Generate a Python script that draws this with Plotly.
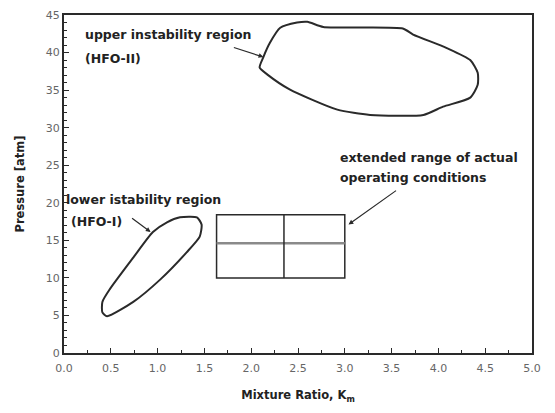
import plotly.graph_objects as go

# Upper instability region (HFO-II) boundary
upper_x = [2.60, 2.77, 3.62, 3.73, 4.09, 4.34, 4.42, 4.42, 4.34, 4.05, 3.84, 3.27, 2.92, 2.41, 2.17, 2.09, 2.13, 2.20, 2.31, 2.49, 2.60]
upper_y = [44.1, 43.4, 43.2, 42.4, 40.6, 39.0, 37.3, 35.7, 34.0, 32.8, 31.7, 31.7, 32.4, 35.1, 37.1, 38.0, 39.4, 41.3, 43.3, 44.0, 44.1]

# Lower instability region (HFO-I) boundary
lower_x = [1.24, 1.42, 1.47, 1.45, 1.31, 1.03, 0.74, 0.46, 0.41, 0.41, 0.49, 0.74, 0.95, 1.10, 1.24]
lower_y = [18.06, 18.06, 17.1, 15.5, 13.4, 9.8, 6.8, 4.9, 5.4, 6.8, 8.5, 12.7, 16.1, 17.4, 18.06]

# Operating range box
box_x = [1.63, 3.0]
box_y = [10.0, 18.4]
box_mid_x = 2.35
box_mid_y = 14.6

x_ticks = [0.0, 0.5, 1.0, 1.5, 2.0, 2.5, 3.0, 3.5, 4.0, 4.5, 5.0]
x_labels = ["0.0", "0.5", "1.0", "1.5", "2.0", "2.5", "3.0", "3.5", "4.0", "4.5", "5.0"]
y_ticks = [0, 5, 10, 15, 20, 25, 30, 35, 40, 45]

LC = "#2a2a2a"
FONT = "DejaVu Sans, Liberation Sans, Arial, sans-serif"

fig = go.Figure()
fig.add_trace(go.Scatter(x=upper_x, y=upper_y, mode="lines",
                         line=dict(color=LC, width=2, shape="spline", smoothing=0.6),
                         hoverinfo="skip", showlegend=False))
fig.add_trace(go.Scatter(x=lower_x, y=lower_y, mode="lines",
                         line=dict(color=LC, width=2, shape="spline", smoothing=0.6),
                         hoverinfo="skip", showlegend=False))

# box
fig.add_shape(type="rect", x0=box_x[0], x1=box_x[1], y0=box_y[0], y1=box_y[1],
              line=dict(color=LC, width=1.5))
fig.add_shape(type="line", x0=box_x[0], x1=box_x[1], y0=box_mid_y, y1=box_mid_y,
              line=dict(color="#8a8a8a", width=2.5))
fig.add_shape(type="line", x0=box_mid_x, x1=box_mid_x, y0=box_y[0], y1=box_y[1],
              line=dict(color=LC, width=1.5))

tf = dict(family=FONT, size=12.5, color="#222", weight="bold")

def txt(x, y, s):
    fig.add_annotation(x=x, y=y, text=s, showarrow=False, xanchor="left",
                       yanchor="middle", font=tf)

txt(0.2, 42.4, "upper instability region")
txt(0.2, 39.2, "(HFO-II)")
txt(0.0, 20.4, "lower istability region")
txt(0.05, 17.5, "(HFO-I)")
txt(2.93, 26.0, "extended range of actual")
txt(2.93, 23.3, "operating conditions")

def arrow(x, y, ax, ay):
    fig.add_annotation(x=x, y=y, ax=ax, ay=ay, text="", showarrow=True,
                       arrowhead=2, arrowsize=0.8, arrowwidth=1.2, arrowcolor=LC)

arrow(2.13, 39.4, -31, -10)
arrow(0.925, 16.1, -20, -15)
arrow(3.04, 17.1, 49, -35)

fig.update_xaxes(range=[0, 5], tickvals=x_ticks, ticktext=x_labels, automargin=False,
                 ticks="inside", ticklen=5, tickwidth=1.2, tickcolor=LC,
                 ticklabelstandoff=4,
                 minor=dict(dtick=0.25, ticks="inside", ticklen=3, tickcolor=LC),
                 showline=True, linecolor=LC, linewidth=2, mirror=True,
                 showgrid=False, zeroline=False,
                 tickfont=dict(family=FONT, size=11, color="#666"),
                 title=dict(text="Mixture Ratio, K<sub>m</sub>", standoff=17,
                            font=dict(family=FONT, size=11.5, color="#222", weight="bold")))
fig.update_yaxes(range=[0, 45], tickvals=y_ticks, automargin=False,
                 ticks="inside", ticklen=5, tickwidth=1.2, tickcolor=LC,
                 minor=dict(dtick=1, ticks="inside", ticklen=3, tickcolor=LC),
                 showline=True, linecolor=LC, linewidth=2, mirror=True,
                 showgrid=False, zeroline=False,
                 tickfont=dict(family=FONT, size=11, color="#666"),
                 title=dict(text="Pressure [atm]", standoff=19,
                            font=dict(family=FONT, size=11.5, color="#222", weight="bold")))

fig.update_layout(width=555, height=413, margin=dict(l=56, r=31, t=7, b=68),
                  paper_bgcolor="white", plot_bgcolor="white", showlegend=False)

fig.write_html("out.html")
